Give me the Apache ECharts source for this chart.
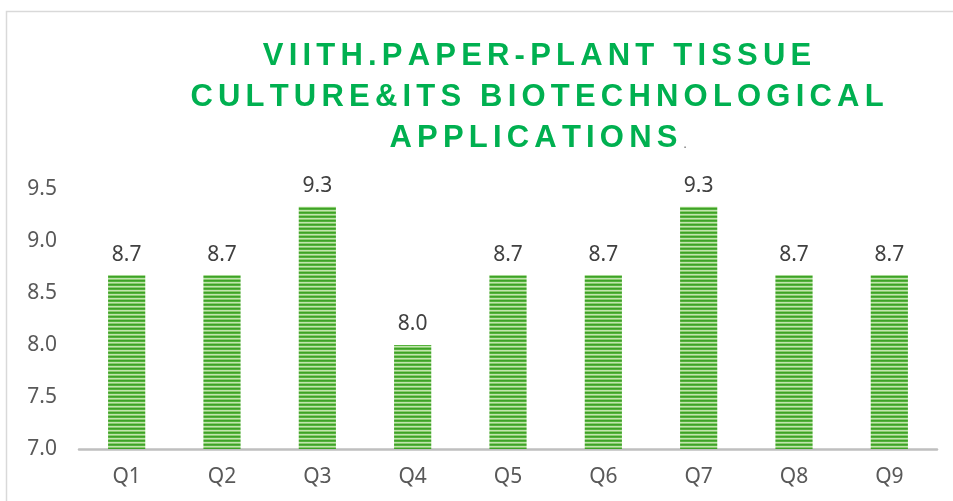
<!DOCTYPE html>
<html>
<head>
<meta charset="utf-8">
<script src="https://cdn.jsdelivr.net/npm/echarts@6/dist/echarts.min.js"></script>
<style>
  html, body { margin: 0; padding: 0; background: #fff; }
  #main { width: 953px; height: 501px; }
</style>
</head>
<body>
<div id="main"></div>
<script>
// data
const categories = ['Q1', 'Q2', 'Q3', 'Q4', 'Q5', 'Q6', 'Q7', 'Q8', 'Q9'];
const scores = [8.67, 8.67, 9.33, 8.0, 8.67, 8.67, 9.33, 8.67, 8.67];
const titleLines = ['VIITH.PAPER-PLANT TISSUE', 'CULTURE&ITS BIOTECHNOLOGICAL', 'APPLICATIONS'];
const yTicks = { min: 7.0, max: 9.5, step: 0.5 };

const chart = echarts.init(document.getElementById('main'));

// striped fill for the bars (horizontal lines)
function stripes() {
    const c = document.createElement('canvas');
    c.width = 4; c.height = 4;
    const ctx = c.getContext('2d');
    const rows = ['#3ea128', '#55b23c', '#c2e4b0', '#8acd6f'];
    rows.forEach((col, i) => {
        ctx.fillStyle = col;
        ctx.fillRect(0, i, 4, 1);
    });
    return c;
}

// spread letters: every char gets its own rich token with side padding
function spaced(line) {
    return line.split('').map(ch => '{c|' + ch + '}').join('');
}
const titleText = titleLines.map((l, i) =>
    spaced(l) + (i === titleLines.length - 1 ? '{p|.}' : '')
).join('\n');

const option = {
    backgroundColor: '#fff',
    animation: false,
    grid: { left: 79, right: 16, top: 189, bottom: 52 },
    graphic: [
        {
            type: 'rect',
            silent: true,
            shape: { x: 6.5, y: 11.5, width: 1000, height: 600 },
            style: { fill: 'none', stroke: '#d9d9d9', lineWidth: 1.5 }
        },
        {
            type: 'text',
            x: 537,
            y: 36,
            style: {
                text: titleText,
                align: 'center',
                verticalAlign: 'top',
                rich: {
                    c: {
                        fontFamily: 'Liberation Sans',
                        fontWeight: 'bold',
                        fontSize: 31,
                        lineHeight: 41,
                        padding: [0, 2.6, 0, 2.6],
                        fill: '#00b050'
                    },
                    p: {
                        fontFamily: 'Liberation Sans',
                        fontSize: 15,
                        lineHeight: 41,
                        padding: [10, 0, 0, 3],
                        fill: '#7f7f7f'
                    }
                }
            }
        }
    ],
    xAxis: {
        type: 'category',
        data: categories,
        axisTick: { show: false },
        axisLine: { lineStyle: { color: '#bfbfbf', width: 2.5 } },
        axisLabel: {
            margin: 18,
            color: '#595959',
            fontSize: 21,
            fontFamily: 'Noto Sans'
        }
    },
    yAxis: {
        type: 'value',
        min: yTicks.min,
        max: yTicks.max,
        interval: yTicks.step,
        splitLine: { show: false },
        axisLine: { show: false },
        axisTick: { show: false },
        axisLabel: {
            margin: 22,
            color: '#595959',
            fontSize: 21,
            fontFamily: 'Noto Sans',
            formatter: v => v.toFixed(1)
        }
    },
    series: [{
        type: 'bar',
        data: scores,
        barWidth: '39%',
        itemStyle: {
            color: { image: stripes(), repeat: 'repeat' }
        },
        label: {
            show: true,
            position: 'top',
            distance: 10,
            color: '#404040',
            fontSize: 21,
            fontFamily: 'Noto Sans',
            formatter: p => p.value.toFixed(1)
        }
    }]
};

chart.setOption(option);
</script>
</body>
</html>
